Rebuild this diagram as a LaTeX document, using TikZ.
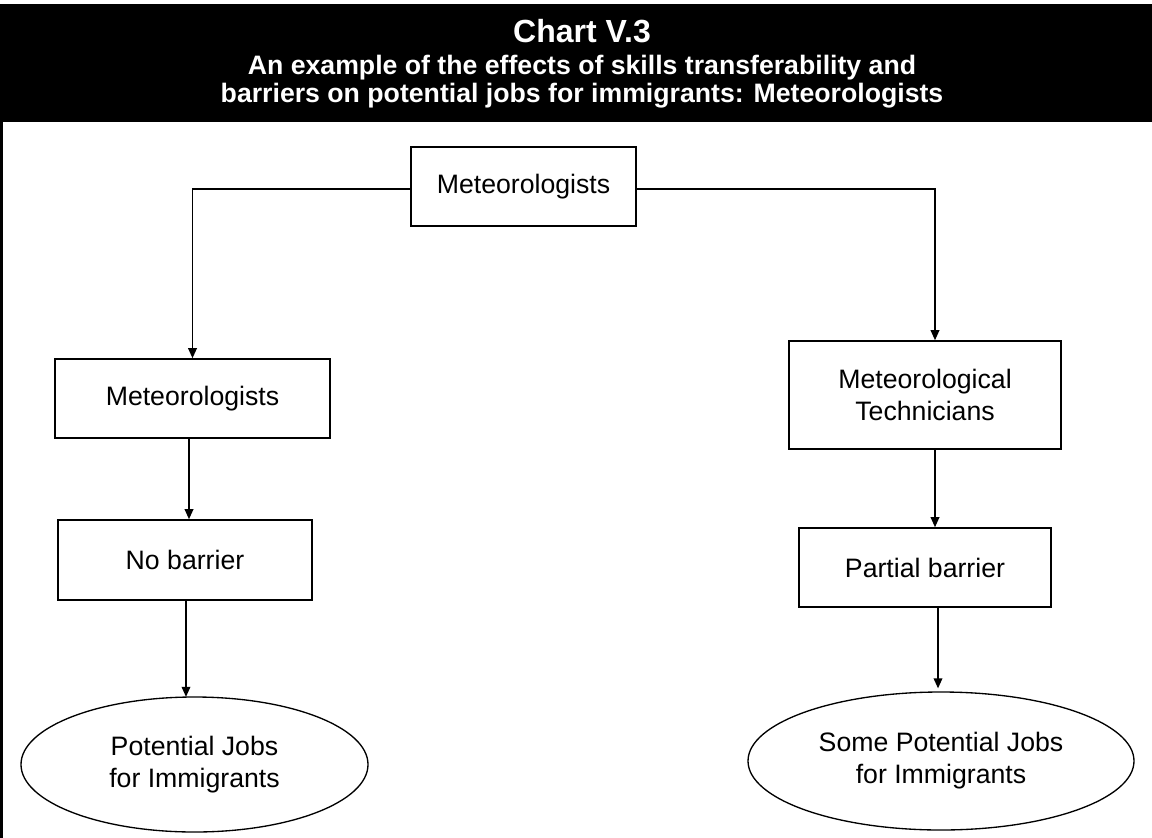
\documentclass[tikz,border=0pt]{standalone}
\usepackage{fontspec}
\setmainfont{Liberation Sans}
\usetikzlibrary{shapes.geometric,arrows.meta,calc}

\begin{document}
\begin{tikzpicture}[x=0.75pt,y=-0.75pt,
  stepbox/.style={draw=black, line width=1.2pt, rectangle, inner sep=0pt,
    align=center, font=\fontsize{20}{24}\selectfont},
  outcome/.style={draw=black, line width=1pt, ellipse, inner sep=0pt,
    align=center, font=\fontsize{20}{24}\selectfont},
  link/.style={line width=1pt, -{Triangle[length=7.5pt,width=6.5pt]}},
  titletext/.style={text=white, anchor=base, font=\bfseries\fontsize{24}{28}\selectfont},
  subtext/.style={text=white, anchor=base, font=\bfseries\fontsize{20}{21}\selectfont}]

  \useasboundingbox (0,0) rectangle (1152,838);

  % header band and left frame rule
  \fill[black] (0,4) rectangle (1152,122);
  \draw[line width=2.25pt] (1.5,122) -- (1.5,838);

  \node[titletext] (title) at (582,43) {Chart V.3};
  \node[subtext] (subtitleA) at (582,75) {An example of the effects of skills transferability and};
  \node[subtext] (subtitleB) at (582,103) {barriers on potential jobs for immigrants: Meteorologists};

  % occupation boxes
  \node[stepbox, minimum width=168.75pt, minimum height=59.25pt] (top) at (523.5,186.5) {Meteorologists};
  \node[stepbox, minimum width=206.25pt, minimum height=59.25pt] (met) at (192.5,398.5) {Meteorologists};
  \node[stepbox, minimum width=190.5pt, minimum height=60pt] (nobar) at (185,560) {No barrier};
  \node[stepbox, minimum width=204pt, minimum height=81pt] (tech) at (925,395) {Meteorological\\Technicians};
  \node[stepbox, minimum width=189pt, minimum height=59.25pt] (partbar) at (925,567.5) {Partial barrier};

  % outcomes
  \node[outcome, minimum width=260.25pt, minimum height=101.25pt] (jobs) at (194.5,764.5) {Potential Jobs\\for Immigrants};
  \node[outcome, minimum width=289.5pt, minimum height=103.5pt] (somejobs) at (941,761) {Some Potential Jobs\\for Immigrants};

  % connectors
  \coordinate (tl) at ($(top.west)+(0,2.5)$);
  \coordinate (tr) at ($(top.east)+(0,2.5)$);
  \coordinate (techin) at ($(tech.north)+(10,0)$);
  \coordinate (techout) at ($(tech.south)+(10,0)$);
  \coordinate (partout) at ($(partbar.south)+(13,0)$);
  \coordinate (metout) at ($(met.south)+(-3.5,0)$);
  \coordinate (nobarout) at ($(nobar.south)+(1,0)$);

  \draw[link] (tl) -| (met.north);
  \draw[link] (tr) -| (techin);
  \draw[link] (metout) -- (metout |- nobar.north);
  \draw[link] (nobarout) -- ($(nobarout |- jobs.north)+(0,0.5)$);
  \draw[link] (techout) -- (techout |- partbar.north);
  \draw[link] (partout) -- ($(partout |- somejobs.north)+(0,-3)$);
\end{tikzpicture}
\end{document}
